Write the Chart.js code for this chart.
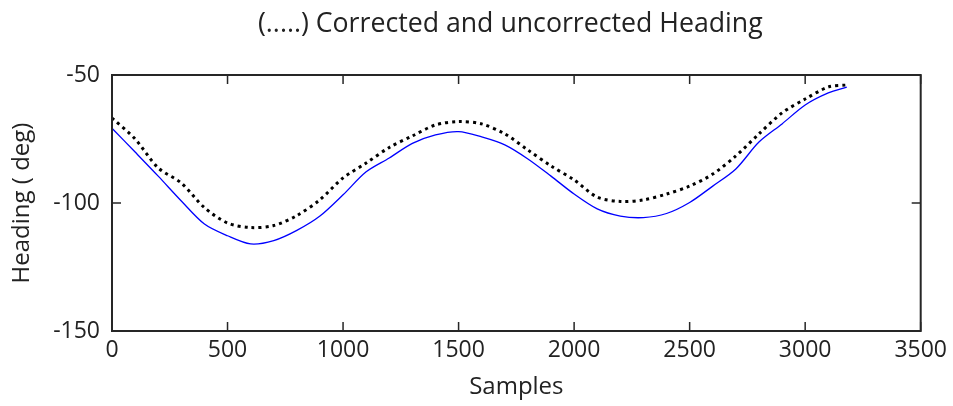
<!DOCTYPE html>
<html>
<head>
<meta charset="utf-8">
<script src="https://cdn.jsdelivr.net/npm/chart.js@4/dist/chart.umd.min.js"></script>
<style>
  body { margin: 0; background: #fff; }
</style>
</head>
<body>
<canvas id="grafico" width="953" height="406"></canvas>
<script>
// datos
const samples = [0, 100, 200, 300, 400, 500, 600, 700, 800, 900, 1000, 1100, 1200, 1300, 1400, 1500, 1600,
    1700, 1800, 1900, 2000, 2100, 2200, 2300, 2400, 2500, 2600, 2700, 2800, 2900, 3000, 3100, 3180];
const uncorrected = [-70.8, -80.1, -89.5, -99.2, -108.2, -112.8, -116.0, -114.7, -110.7, -105.1, -96.8, -87.8,
    -82.4, -76.7, -73.4, -72.1, -74.2, -77.3, -82.8, -89.5, -96.5, -102.3, -105.1, -105.7, -104.1, -99.8,
    -93.4, -86.7, -76.2, -69.1, -61.7, -57.0, -54.7];
const corrected = [-66.8, -75.0, -86.3, -92.2, -101.8, -107.8, -109.6, -108.8, -104.9, -98.7, -90.2, -84.4,
    -78.3, -73.8, -69.5, -68.2, -69.1, -73.0, -79.3, -85.5, -91.0, -97.7, -99.4, -98.8, -96.5, -93.4,
    -88.7, -81.6, -73.0, -64.8, -59.4, -54.7, -53.9];
const xTicks = [0, 500, 1000, 1500, 2000, 2500, 3000, 3500];
const yTicks = [-150, -100, -50];
const titulo = '(.....) Corrected and uncorrected Heading';

const colorTexto = '#222';
const fuente = "'Open Sans', sans-serif";

// caja y marcas hacia adentro estilo matlab, y titulo centrado sobre el area
const cajaPlugin = {
    id: 'caja',
    afterDatasetsDraw(chart) {
        const ctx = chart.ctx;
        const a = chart.chartArea;
        const sx = chart.scales.x;
        const sy = chart.scales.y;
        ctx.save();
        ctx.strokeStyle = '#262626';
        ctx.lineWidth = 1.5;
        ctx.beginPath();
        xTicks.forEach(v => {
            const px = sx.getPixelForValue(v);
            ctx.moveTo(px, a.bottom);
            ctx.lineTo(px, a.bottom - 9);
            ctx.moveTo(px, a.top);
            ctx.lineTo(px, a.top + 9);
        });
        yTicks.forEach(v => {
            const py = sy.getPixelForValue(v);
            ctx.moveTo(a.left, py);
            ctx.lineTo(a.left + 9, py);
            ctx.moveTo(a.right, py);
            ctx.lineTo(a.right - 9, py);
        });
        ctx.stroke();
        ctx.lineWidth = 2;
        ctx.strokeRect(a.left, a.top, a.right - a.left, a.bottom - a.top);

        ctx.fillStyle = colorTexto;
        ctx.font = "26.7px 'Open Sans', sans-serif";
        ctx.textAlign = 'center';
        ctx.textBaseline = 'middle';
        ctx.fillText(titulo, (a.left + a.right) / 2 - 6, 24);
        ctx.restore();
    }
};

const lienzo = document.querySelector('#grafico');
const miGrafico = new Chart(lienzo, {
    type: 'line',
    data: {
        datasets: [
            {
                label: 'Uncorrected',
                data: samples.map((s, i) => ({ x: s, y: uncorrected[i] })),
                borderColor: '#0000ff',
                borderWidth: 1.3,
                pointRadius: 0,
                tension: 0.3
            },
            {
                label: 'Corrected',
                data: samples.map((s, i) => ({ x: s, y: corrected[i] })),
                borderColor: '#000000',
                borderWidth: 3,
                borderDash: [3, 4],
                pointRadius: 0,
                tension: 0.3
            }
        ]
    },
    options: {
        responsive: false,
        animation: false,
        layout: { padding: { left: 0, right: 32, top: 75, bottom: 0 } },
        plugins: {
            legend: { display: false },
            tooltip: { enabled: false },
            title: { display: false }
        },
        scales: {
            x: {
                type: 'linear',
                min: 0,
                max: 3500,
                afterBuildTicks: s => { s.ticks = xTicks.map(v => ({ value: v })); },
                afterFit: s => { s.height = 75; },
                grid: { display: false, drawTicks: false },
                border: { display: false },
                ticks: {
                    color: colorTexto,
                    font: { family: fuente, size: 23 },
                    padding: 6,
                    maxRotation: 0,
                    callback: v => String(v)
                },
                title: {
                    display: true,
                    text: 'Samples',
                    color: colorTexto,
                    font: { family: fuente, size: 24 },
                    padding: { top: 0, bottom: 4 }
                }
            },
            y: {
                min: -150,
                max: -50,
                afterBuildTicks: s => { s.ticks = yTicks.map(v => ({ value: v })); },
                afterFit: s => { s.width = 112; },
                grid: { display: false, drawTicks: false },
                border: { display: false },
                ticks: { color: colorTexto, font: { family: fuente, size: 23 }, padding: 12, callback: v => String(v) },
                title: {
                    display: true,
                    text: 'Heading ( deg)',
                    color: colorTexto,
                    font: { family: fuente, size: 24 },
                    padding: { top: 8, bottom: 0 }
                }
            }
        }
    },
    plugins: [cajaPlugin]
});
</script>
</body>
</html>
